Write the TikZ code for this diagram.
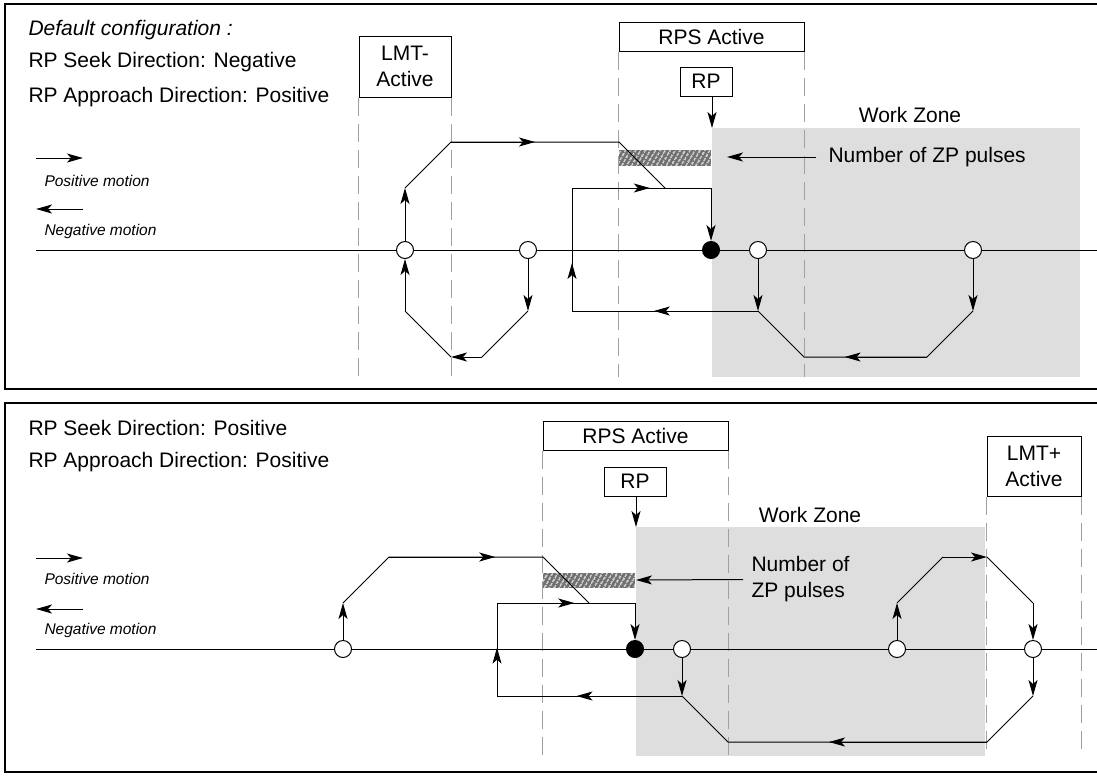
\documentclass[tikz,border=0pt]{standalone}
\usepackage{fontspec}
\setmainfont{Liberation Sans}
\usetikzlibrary{arrows.meta, calc, patterns.meta}
\definecolor{zonegray}{HTML}{DEDEDE}
\definecolor{guidegray}{HTML}{A0A0A0}
\definecolor{hatchgray}{HTML}{707070}
\newcommand{\bigtxt}{\fontsize{21}{26}\selectfont}
\newcommand{\smalltxt}{\fontsize{15.5}{18}\selectfont\itshape}

\begin{document}
\begin{tikzpicture}[x=1pt, y=-1pt, line width=1pt,
  arr/.style={-{Stealth[length=16pt,width=9pt,inset=4pt]}},
  guide/.style={draw=guidegray, dash pattern=on 18pt off 8pt},
  txt/.style={font=\bigtxt, inner sep=0pt, anchor=west},
  legendtxt/.style={font=\smalltxt, inner sep=0pt, anchor=west},
  flagbox/.style={draw, font=\bigtxt, align=center, inner sep=0pt},
  opendot/.style={circle, draw, fill=white, minimum size=17pt, inner sep=0pt},
  fulldot/.style={circle, draw, fill=black, minimum size=17pt, inner sep=0pt}]
  \useasboundingbox (0,0) rectangle (1097,780);

  % Frames
  \draw[line width=1.2pt] (1097,4) -- (5,4) -- (5,389) -- (1097,389);
  \draw[line width=1.2pt] (1097,403) -- (5,403) -- (5,772) -- (1097,772);

  %%%% Top panel: seek negative
  % Work zone
  \coordinate (zoneT) at (712,128);
  \coordinate (zoneTend) at (1080,377);
  \fill[zonegray] (zoneT) rectangle (zoneTend);
  \node[font=\bigtxt] (workT) at (910,115) {Work Zone};

  % Headings
  \node[txt, font=\bigtxt\itshape] (cfgT) at (28,30) {Default configuration :};
  \node[txt] (seekT) at (28,62) {RP Seek Direction: Negative};
  \node[txt] (apprT) at (28,97) {RP Approach Direction: Positive};

  % Legend
  \coordinate (posT0) at (36,158);
  \coordinate (posT1) at (83,158);
  \coordinate (negT0) at (83,209);
  \coordinate (negT1) at (36,209);
  \draw[arr] (posT0) -- (posT1);
  \node[legendtxt] (posTtxt) at (44,181) {Positive motion};
  \draw[arr] (negT0) -- (negT1);
  \node[legendtxt] (negTtxt) at (44,231) {Negative motion};

  % Switch boxes
  \node[flagbox, minimum width=92pt, minimum height=61pt] (lmtT) at (405,66.5) {LMT-\\Active};
  \node[flagbox, minimum width=185pt, minimum height=29pt] (rpsT) at (711.5,36.5) {RPS Active};
  \node[flagbox, minimum width=52pt, minimum height=29pt] (rpT) at (706,81.5) {RP};
  \draw[arr] (rpT.south -| zoneT) -- (zoneT);

  % Guide lines
  \coordinate (endT) at (0,377);
  \foreach \c in {south west, south east} {
    \draw[guide] (lmtT.\c) -- (lmtT.\c |- endT);
    \draw[guide] (rpsT.\c) -- (rpsT.\c |- endT);
  }

  % ZP pulses
  \coordinate (zpTa) at (619,150);
  \coordinate (zpTb) at (711,166);
  \fill[hatchgray] (zpTa) rectangle (zpTb);
  \fill[pattern={Lines[angle=60,distance=4pt,line width=1.1pt]}, pattern color=white] (zpTa) rectangle (zpTb);
  \node[txt] (zpT) at (828,157) {Number of ZP pulses};
  \coordinate (zpTtip) at (727,157);
  \draw[arr] ([xshift=-12pt]zpT.west) -- (zpTtip);

  % Axis and points
  \coordinate (axT0) at (36,250);
  \coordinate (axT1) at (1097,250);
  \draw (axT0) -- (axT1);
  \node[opendot] (c1) at (405,250) {};
  \node[opendot] (c2) at (528,250) {};
  \node[fulldot] (rp1) at (711,250) {};
  \node[opendot] (c3) at (758,250) {};
  \node[opendot] (c4) at (973,250) {};

  % Corners
  \coordinate (t1) at (405,188);
  \coordinate (t2) at (451,142);
  \coordinate (t3) at (619,142);
  \coordinate (t4) at (665,188);
  \coordinate (r1) at (572,188);
  \coordinate (r2) at (711,188);
  \coordinate (r3) at (572,311);
  \coordinate (r4) at (758,311);
  \coordinate (b1) at (804,357);
  \coordinate (b2) at (927,357);
  \coordinate (b3) at (973,311);
  \coordinate (l1) at (528,311);
  \coordinate (l2) at (482,357);
  \coordinate (l3) at (451,357);
  \coordinate (l4) at (405,311);

  % Motion paths
  \draw[arr] (c1) -- (t1);
  \draw (t1) -- (t2) -- (t3) -- (t4);
  \draw[arr] (t2) -- ($(t2)!0.5!(t3)$);
  \draw (r4) -- (r3) -- (r1) -- (r2);
  \draw[arr] (r2) -- (rp1);
  \draw[arr] (r3) -- ($(r3)!0.39!(r1)$);
  \draw[arr] (r1) -- ($(r1)!0.56!(r2)$);
  \draw[arr] (r4) -- ($(r4)!0.56!(r3)$);
  \draw[arr] (c3) -- (r4);
  \draw[arr] (c4) -- (b3);
  \draw (b3) -- (b2) -- (b1) -- (r4);
  \draw[arr] (b2) -- ($(b2)!0.67!(b1)$);
  \draw[arr] (c2) -- (l1);
  \draw (l1) -- (l2);
  \draw[arr] (l2) -- (l3);
  \draw (l3) -- (l4);
  \draw[arr] (l4) -- (c1);

  %%%% Bottom panel: seek positive
  % Work zone
  \coordinate (zoneB) at (636,527);
  \coordinate (zoneBend) at (985,756);
  \fill[zonegray] (zoneB) rectangle (zoneBend);
  \node[font=\bigtxt] (workB) at (810,515) {Work Zone};

  % Headings
  \node[txt] (seekB) at (28,428) {RP Seek Direction: Positive};
  \node[txt] (apprB) at (28,462) {RP Approach Direction: Positive};

  % Legend
  \coordinate (posB0) at (36,558);
  \coordinate (posB1) at (83,558);
  \coordinate (negB0) at (83,609);
  \coordinate (negB1) at (36,609);
  \draw[arr] (posB0) -- (posB1);
  \node[legendtxt] (posBtxt) at (44,579) {Positive motion};
  \draw[arr] (negB0) -- (negB1);
  \node[legendtxt] (negBtxt) at (44,630) {Negative motion};

  % Switch boxes
  \node[flagbox, minimum width=185pt, minimum height=29pt] (rpsB) at (635.5,435.5) {RPS Active};
  \node[flagbox, minimum width=62pt, minimum height=29pt] (rpB) at (635,481.5) {RP};
  \node[flagbox, minimum width=94pt, minimum height=60pt] (lmtB) at (1034,466) {LMT+\\Active};
  \draw[arr] (rpB.south -| zoneB) -- (zoneB);

  % Guide lines
  \coordinate (endB) at (0,755);
  \foreach \c in {south west, south east} {
    \draw[guide] (rpsB.\c) -- (rpsB.\c |- endB);
    \draw[guide] (lmtB.\c) -- (lmtB.\c |- endB);
  }

  % ZP pulses
  \coordinate (zpBa) at (543,573);
  \coordinate (zpBb) at (635,588);
  \fill[hatchgray] (zpBa) rectangle (zpBb);
  \fill[pattern={Lines[angle=60,distance=4pt,line width=1.1pt]}, pattern color=white] (zpBa) rectangle (zpBb);
  \node[txt, align=left] (zpB) at (751,579.5) {Number of\\ZP pulses};
  \coordinate (zpBtip) at (636,580);
  \draw[arr] ([xshift=-8pt]zpB.west) -- (zpBtip);

  % Axis and points
  \coordinate (axB0) at (36,649);
  \coordinate (axB1) at (1097,649);
  \draw (axB0) -- (axB1);
  \node[opendot] (d1) at (343,649) {};
  \node[fulldot] (rp2) at (635,649) {};
  \node[opendot] (d2) at (682,649) {};
  \node[opendot] (d3) at (897,649) {};
  \node[opendot] (d4) at (1033,649) {};

  % Corners
  \coordinate (u1) at (343,603);
  \coordinate (u2) at (389,557);
  \coordinate (u3) at (543,557);
  \coordinate (u4) at (589,603);
  \coordinate (s1) at (497,603);
  \coordinate (s2) at (635,603);
  \coordinate (s3) at (497,696);
  \coordinate (s4) at (682,696);
  \coordinate (v1) at (728,742);
  \coordinate (v2) at (987,742);
  \coordinate (v3) at (1033,696);
  \coordinate (w1) at (897,603);
  \coordinate (w2) at (943,557);
  \coordinate (w3) at (987,557);
  \coordinate (w4) at (1033,603);

  % Motion paths
  \draw[arr] (d1) -- (u1);
  \draw (u1) -- (u2) -- (u3) -- (u4);
  \draw[arr] (u2) -- ($(u2)!0.69!(u3)$);
  \draw (s4) -- (s3) -- (s1) -- (s2);
  \draw[arr] (s2) -- (rp2);
  \draw[arr] (s3) -- ($(s3)!0.52!(s1)$);
  \draw[arr] (s1) -- ($(s1)!0.56!(s2)$);
  \draw[arr] (s4) -- ($(s4)!0.57!(s3)$);
  \draw[arr] (d2) -- (s4);
  \draw[arr] (d4) -- (v3);
  \draw (v3) -- (v2) -- (v1) -- (s4);
  \draw[arr] (v2) -- ($(v2)!0.61!(v1)$);
  \draw[arr] (d3) -- (w1);
  \draw (w1) -- (w2);
  \draw[arr] (w2) -- (w3);
  \draw (w3) -- (w4);
  \draw[arr] (w4) -- (d4);
\end{tikzpicture}
\end{document}
